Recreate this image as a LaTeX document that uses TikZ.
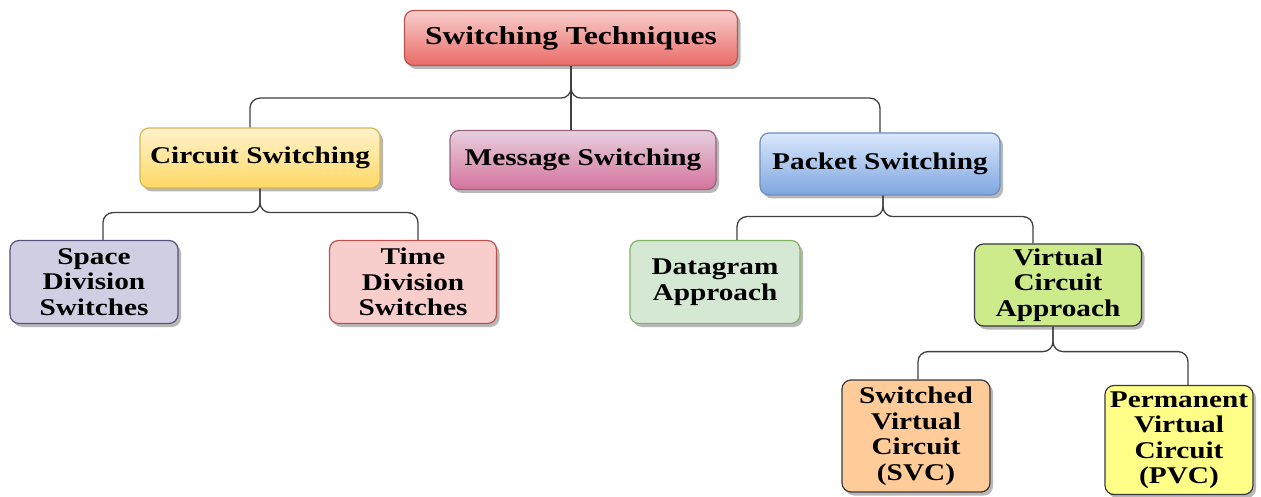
\documentclass[tikz,border=0pt]{standalone}
\usepackage{fontspec}
\setmainfont{Liberation Serif}[FakeStretch=1.22]
\usetikzlibrary{shadows,calc}
\definecolor{rootT}{HTML}{F8CECC}\definecolor{rootB}{HTML}{EA6B66}\definecolor{rootS}{HTML}{B85450}
\definecolor{circT}{HTML}{FFF2CC}\definecolor{circB}{HTML}{FFD966}\definecolor{circS}{HTML}{D6B656}
\definecolor{msgT}{HTML}{E6D0DE}\definecolor{msgB}{HTML}{D5739D}\definecolor{msgS}{HTML}{996185}
\definecolor{pktT}{HTML}{DAE8FC}\definecolor{pktB}{HTML}{7EA6E0}\definecolor{pktS}{HTML}{6C8EBF}
\definecolor{spF}{HTML}{D0CEE2}\definecolor{spS}{HTML}{56517E}
\definecolor{tmF}{HTML}{F8CECC}\definecolor{tmS}{HTML}{B85450}
\definecolor{dgF}{HTML}{D5E8D4}\definecolor{dgS}{HTML}{82B366}
\definecolor{vcF}{HTML}{CDEB8B}\definecolor{dkS}{HTML}{36393D}
\definecolor{svF}{HTML}{FFCC99}\definecolor{pvF}{HTML}{FFFF88}
\tikzset{
  box/.style={rectangle, rounded corners=9pt, line width=1.2pt, align=center,
    inner sep=1pt, font=\fontsize{24}{25.5}\selectfont\bfseries,
    drop shadow={shadow xshift=3pt, shadow yshift=-3.5pt, fill=black, opacity=0.28}},
  conn/.style={draw=black!75, line width=1.3pt, rounded corners=10pt}
}
\begin{document}
\begin{tikzpicture}[x=1pt,y=-1pt]
\useasboundingbox (0,0) rectangle (1261,497);
\node[box, draw=rootS, top color=rootT, bottom color=rootB, minimum width=333pt, minimum height=55pt, font=\fontsize{25.8}{27}\selectfont\bfseries] (root) at (571,38) {Switching Techniques};
\node[box, draw=circS, top color=circT, bottom color=circB, minimum width=240pt, minimum height=60pt] (circ) at (260,158) {Circuit Switching};
\node[box, draw=msgS, top color=msgT, bottom color=msgB, minimum width=266pt, minimum height=59pt] (msg) at (583,160) {Message Switching};
\node[box, draw=pktS, top color=pktT, bottom color=pktB, minimum width=240pt, minimum height=62pt] (pkt) at (880,164) {Packet Switching};
\node[box, draw=spS, fill=spF, minimum width=168pt, minimum height=83pt] (space) at (94,282) {Space\\Division\\Switches};
\node[box, draw=tmS, fill=tmF, minimum width=167pt, minimum height=83pt] (time) at (413,282) {Time\\Division\\Switches};
\node[box, draw=dgS, fill=dgF, minimum width=170pt, minimum height=83pt] (dgram) at (715,282) {Datagram\\Approach};
\node[box, draw=dkS, fill=vcF, minimum width=167pt, minimum height=82pt] (vca) at (1058,285) {Virtual\\Circuit\\Approach};
\node[box, draw=dkS, fill=svF, minimum width=148pt, minimum height=112pt] (svc) at (916,436) {Switched\\Virtual\\Circuit\\(SVC)};
\node[box, draw=dkS, fill=pvF, minimum width=148pt, minimum height=109pt] (pvc) at (1179,440) {Permanent\\Virtual\\Circuit\\(PVC)};
% connectors
\coordinate (j1) at ($(root.south)+(0,32)$);
\draw[conn] (root.south) -- (j1) -| ($(circ.north)+(-10,0)$);
\draw[conn] (root.south) -- (j1) -| (pkt.north);
\draw[conn] (root.south) -- (root.south |- msg.north);
\coordinate (j2) at ($(circ.south)+(0,24)$);
\draw[conn] (circ.south) -- (j2) -| ($(space.north)+(9,0)$);
\draw[conn] (circ.south) -- (j2) -| ($(time.north)+(5,0)$);
\coordinate (j3) at ($(pkt.south)+(3,21)$);
\draw[conn] ($(pkt.south)+(3,0)$) -- (j3) -| ($(dgram.north)+(22,0)$);
\draw[conn] ($(pkt.south)+(3,0)$) -- (j3) -| ($(vca.north)+(-25,0)$);
\coordinate (j4) at ($(vca.south)+(-5,25)$);
\draw[conn] ($(vca.south)+(-5,0)$) -- (j4) -| ($(svc.north)+(2,0)$);
\draw[conn] ($(vca.south)+(-5,0)$) -- (j4) -| ($(pvc.north)+(9,0)$);
\end{tikzpicture}
\end{document}
